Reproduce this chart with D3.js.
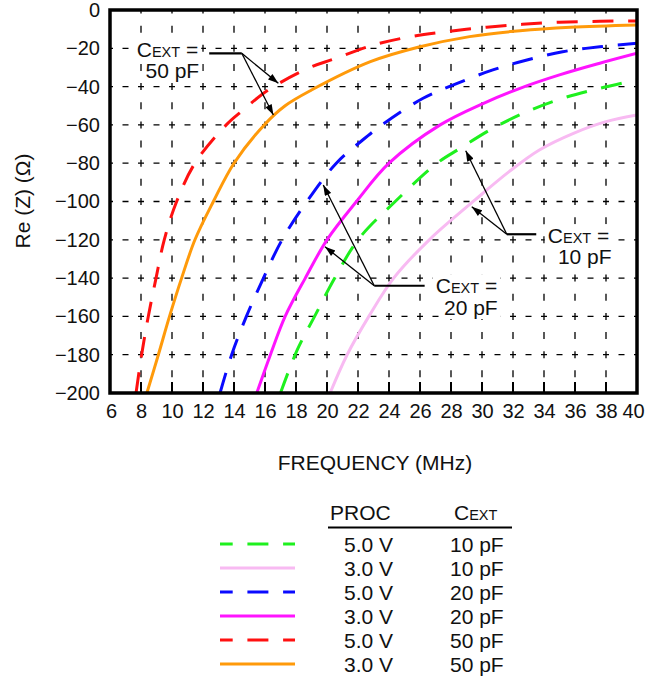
<!DOCTYPE html>
<meta charset="UTF-8">
<script src="https://d3js.org/d3.v7.min.js"></script>
<style>
  body { margin: 0; background: #fff; }
  text { font-family: "Liberation Sans", Arial, sans-serif; fill: #111; }
</style>
<svg id="chart" width="647" height="676"></svg>
<script>

// ---- data ----
var xTicks = [6, 8, 10, 12, 14, 16, 18, 20, 22, 24, 26, 28, 30, 32, 34, 36, 38, 40];
var yTicks = [0, -20, -40, -60, -80, -100, -120, -140, -160, -180, -200];

// PROC 5.0 V, CEXT 10 pF
var f5v10 = [17.0, 18.08, 19.2, 20.5, 22.0, 24.4, 27.1, 28.6, 30.7, 32.9, 35.2, 37.6, 40];
var z5v10 = [-200, -177.5, -160, -140, -120, -100, -80, -72.2, -61.8, -53.1, -46.1, -40.9, -36.5];

// PROC 3.0 V, CEXT 10 pF
var f3v10 = [20.2, 21.3, 22.7, 24.3, 26.6, 29.55, 31.75, 33.7, 35.9, 38, 40];
var z3v10 = [-200, -180, -160, -140, -120, -99.2, -84.4, -73.1, -64.4, -58.3, -54.8];

// PROC 5.0 V, CEXT 20 pF
var f5v20 = [13.1, 13.85, 14.8, 15.9, 17.1, 18.7, 20.6, 22.3, 23.55, 26.2, 28.4, 30.7, 32.9, 35.2, 37.6, 40];
var z5v20 = [-200, -180, -160, -140, -120, -100, -80, -67.9, -60, -46.1, -38.3, -31.3, -26.1, -21.8, -19.2, -17.4];

// PROC 3.0 V, CEXT 20 pF
var f3v20 = [15.47, 16.35, 17.3, 18.6, 20.0, 21.9, 24.0, 27.3, 30.1, 32.45, 35, 37.6, 40];
var z3v20 = [-200, -180, -160, -140, -120, -100, -80, -60, -48.7, -40.9, -33.9, -27.8, -22.6];

// PROC 5.0 V, CEXT 50 pF
var f5v50 = [7.68, 8.04, 8.47, 8.97, 9.5, 10.3, 11.48, 13.5, 14.6, 16.2, 18.9, 20.4, 23, 25.4, 27.7, 30.3, 32.6, 35, 37.6, 40];
var z5v50 = [-200, -180, -160, -140, -120, -100, -80, -60, -52.2, -41.8, -30, -25.7, -18.3, -13.9, -11.3, -9.0, -7.5, -6.4, -5.9, -5.7];

// PROC 3.0 V, CEXT 50 pF
var f3v50 = [8.38, 9.12, 9.84, 10.62, 11.48, 12.67, 14.0, 15.95, 17.3, 19.0, 22.8, 26, 29.2, 32.45, 35.7, 40];
var z3v50 = [-200, -180, -160, -140, -120, -100, -80, -60, -50, -41.8, -27, -19.2, -13.9, -10.8, -9, -7.8];

var procLabels = ["5.0 V", "3.0 V", "5.0 V", "3.0 V", "5.0 V", "3.0 V"];
var cextLabels = ["10 pF", "10 pF", "20 pF", "20 pF", "50 pF", "50 pF"];

// ---- series ----
var series = [
  { f: f5v10, z: z5v10, color: "#1ef01e", dash: true },
  { f: f3v10, z: z3v10, color: "#f8baf2", dash: false },
  { f: f5v20, z: z5v20, color: "#0a0aff", dash: true },
  { f: f3v20, z: z3v20, color: "#ff14ff", dash: false },
  { f: f5v50, z: z5v50, color: "#ff1010", dash: true },
  { f: f3v50, z: z3v50, color: "#ff9a0a", dash: false }
];

var svg = d3.select("#chart");
var pLeft = 110, pRight = 637, pTop = 10, pBottom = 393;

var x = d3.scaleLinear().domain([6, 40]).range([pLeft, pRight]);
var y = d3.scaleLinear().domain([-200, 0]).range([pBottom, pTop]);

var defs = svg.append("defs");
defs.append("clipPath").attr("id", "plotclip")
  .append("rect").attr("x", pLeft).attr("y", pTop)
  .attr("width", pRight - pLeft).attr("height", pBottom - pTop);

var marker = defs.append("marker")
  .attr("id", "arrow").attr("viewBox", "0 0 12 8")
  .attr("refX", 12).attr("refY", 4)
  .attr("markerWidth", 12).attr("markerHeight", 7)
  .attr("markerUnits", "userSpaceOnUse")
  .attr("orient", "auto");
marker.append("path").attr("d", "M0,0 L12,4 L0,8 Z").attr("fill", "#000");

// grid: vertical dashes sit on each horizontal line and midway, horizontal likewise
var ystep = (y(-200) - y(-180));
var xstep = (x(8) - x(6));
svg.append("g").selectAll("line")
  .data(xTicks.slice(1, -1))
  .enter().append("line")
    .attr("x1", function(d) { return x(d); })
    .attr("x2", function(d) { return x(d); })
    .attr("y1", pBottom).attr("y2", pTop)
    .attr("stroke", "#000").attr("stroke-width", 1.3)
    .attr("stroke-dasharray", "7," + (ystep / 2 - 7))
    .attr("stroke-dashoffset", 3.5);

svg.append("g").selectAll("line")
  .data(yTicks.slice(1, -1))
  .enter().append("line")
    .attr("x1", pLeft).attr("x2", pRight)
    .attr("y1", function(d) { return y(d); })
    .attr("y2", function(d) { return y(d); })
    .attr("stroke", "#000").attr("stroke-width", 1.3)
    .attr("stroke-dasharray", "6," + (xstep / 2 - 6))
    .attr("stroke-dashoffset", 3);

// short inward ticks on the bottom edge
svg.append("g").selectAll("line")
  .data(xTicks.slice(1, -1))
  .enter().append("line")
    .attr("x1", function(d) { return x(d); })
    .attr("x2", function(d) { return x(d); })
    .attr("y1", pBottom).attr("y2", pBottom - 11)
    .attr("stroke", "#000").attr("stroke-width", 2);

// callout texts (white boxes hide the grid behind them)
var callouts = [
  { cap: "50 pF", tx: 9.71, ty: -24.8, tx2: 10.02, ty2: -35.7, l0: [12.4, -22.6], l1: [14.5, -22.6], tips: [[16.86, -38.3], [16.54, -54.8]] },
  { cap: "10 pF", tx: 36.23, ty: -121.8, tx2: 36.63, ty2: -132.6, l0: [33.5, -117.1], l1: [31.6, -117.1], tips: [[28.95, -73.5], [29.34, -102.7]] },
  { cap: "20 pF", tx: 29.0, ty: -147.9, tx2: 29.28, ty2: -159.3, l0: [26.3, -144], l1: [23.05, -144], tips: [[19.87, -123.6], [19.76, -91.4]] }
];

function cext(sel, big, small) {
  sel.append("tspan").attr("font-size", big).text("C");
  sel.append("tspan").attr("font-size", small).text("EXT");
}

var bgLayer = svg.append("g");
var txtLayer = svg.append("g");
callouts.forEach(function(c) {
  var t = txtLayer.append("text")
    .attr("x", x(c.tx)).attr("y", y(c.ty))
    .attr("text-anchor", "middle");
  cext(t, 21, 14.5);
  t.append("tspan").attr("font-size", 21).text(" =");
  var t2 = txtLayer.append("text")
    .attr("x", x(c.tx2)).attr("y", y(c.ty2))
    .attr("text-anchor", "middle")
    .attr("font-size", 21)
    .text(c.cap);
  [t, t2].forEach(function(n) {
    var b = n.node().getBBox();
    bgLayer.append("rect")
      .attr("x", b.x - 3).attr("y", b.y)
      .attr("width", b.width + 6).attr("height", b.height)
      .attr("fill", "#fff");
  });
});

// curves
var line = d3.line()
  .x(function(d) { return x(d[0]); })
  .y(function(d) { return y(d[1]); })
  .curve(d3.curveCatmullRom.alpha(0.5));

svg.append("g").attr("clip-path", "url(#plotclip)")
  .selectAll("path")
  .data(series)
  .enter().append("path")
    .attr("d", function(s) { return line(d3.zip(s.f, s.z)); })
    .attr("fill", "none")
    .attr("stroke", function(s) { return s.color; })
    .attr("stroke-width", 3)
    .attr("stroke-dasharray", function(s) { return s.dash ? "21,14.7" : null; });

// leader lines and arrows
callouts.forEach(function(c) {
  svg.append("line")
    .attr("x1", x(c.l0[0])).attr("y1", y(c.l0[1]))
    .attr("x2", x(c.l1[0])).attr("y2", y(c.l1[1]))
    .attr("stroke", "#000").attr("stroke-width", 2.2);
  c.tips.forEach(function(p) {
    svg.append("line")
      .attr("x1", x(c.l1[0])).attr("y1", y(c.l1[1]))
      .attr("x2", x(p[0])).attr("y2", y(p[1]))
      .attr("stroke", "#000").attr("stroke-width", 1.3)
      .attr("marker-end", "url(#arrow)");
  });
});

// frame
svg.append("rect")
  .attr("x", pLeft).attr("y", pTop)
  .attr("width", pRight - pLeft).attr("height", pBottom - pTop)
  .attr("fill", "none").attr("stroke", "#000").attr("stroke-width", 3.5);

// axes labels
var xAxis = d3.axisBottom(x).tickValues(xTicks).tickSize(0).tickPadding(11).tickFormat(d3.format("d"));
var gx = svg.append("g").attr("transform", "translate(0," + pBottom + ")").call(xAxis);
gx.select(".domain").remove();
gx.selectAll("text").attr("font-size", 20).attr("font-family", "Liberation Sans, Arial, sans-serif").attr("fill", "#111")
  .attr("dx", function(d) { return d === 40 ? -4 : (d === 6 ? 1 : 0); });

var yAxis = d3.axisLeft(y).tickValues(yTicks).tickSize(0).tickPadding(10).tickFormat(d3.format("d"));
var gy = svg.append("g").attr("transform", "translate(" + pLeft + ",0)").call(yAxis);
gy.select(".domain").remove();
gy.selectAll("text").attr("font-size", 20).attr("font-family", "Liberation Sans, Arial, sans-serif").attr("fill", "#111");

svg.append("text")
  .attr("transform", "translate(30,201) rotate(-90)")
  .attr("text-anchor", "middle")
  .attr("font-size", 21)
  .text("Re (Z) (Ω)");

svg.append("text")
  .attr("x", 375).attr("y", 470)
  .attr("text-anchor", "middle")
  .attr("font-size", 21)
  .text("FREQUENCY (MHz)");

// legend table
var lg = svg.append("g");
lg.append("text").attr("x", 330).attr("y", 520).attr("font-size", 21).text("PROC");
var hc = lg.append("text").attr("x", 454).attr("y", 520);
cext(hc, 21, 14.5);
lg.append("line").attr("x1", 328).attr("x2", 512).attr("y1", 527.5).attr("y2", 527.5)
  .attr("stroke", "#000").attr("stroke-width", 2.2);

var rows = lg.selectAll("g.row")
  .data(series)
  .enter().append("g")
    .attr("class", "row")
    .attr("transform", function(d, i) { return "translate(0," + (544 + i * 24) + ")"; });

rows.append("line")
  .attr("x1", 220).attr("x2", 295)
  .attr("stroke", function(s) { return s.color; })
  .attr("stroke-width", 3)
  .attr("stroke-dasharray", function(s) { return s.dash ? "21,14.7" : null; })
  .attr("stroke-dashoffset", function(s) { return s.dash ? 8.3 : null; });

rows.append("text")
  .attr("x", 344).attr("y", 7.5)
  .attr("font-size", 21)
  .text(function(d, i) { return procLabels[i]; });

rows.append("text")
  .attr("x", 450).attr("y", 7.5)
  .attr("font-size", 21)
  .text(function(d, i) { return cextLabels[i]; });

</script>
